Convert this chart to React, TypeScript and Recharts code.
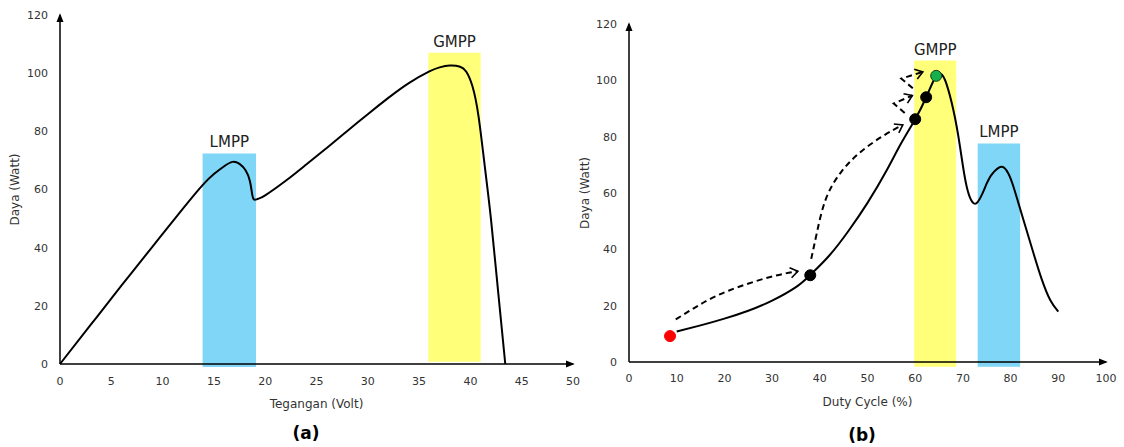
import React from 'react';
import {
  ComposedChart,
  Line,
  Scatter,
  XAxis,
  YAxis,
  ReferenceArea,
} from 'recharts';

// (a) P-V curve
const voltage = [0, 3, 6, 9, 12, 13.9, 15, 16, 16.8, 17.5, 18.1, 18.5, 18.7, 18.9, 19.3, 20, 22, 24, 26, 28, 30, 32, 34, 36, 37, 38, 39, 39.6, 40.2, 40.8, 41.4, 42, 42.7, 43.4];
const powerA = [0, 13.5, 27, 40.3, 53.5, 61.5, 65.3, 68, 69.5, 68.8, 66.5, 63, 59, 56.6, 56.8, 58, 63, 68.6, 74.3, 80.1, 85.9, 91.5, 96.6, 100.6, 102, 102.6, 102.2, 100.5, 95.5, 85, 68, 50, 25, 0];
const voltTicks = [0, 5, 10, 15, 20, 25, 30, 35, 40, 45, 50];

// (b) P-D curve
const duty = [10, 15, 20, 25, 30, 35, 38, 42, 46, 50, 54, 57, 60, 62.3, 64.4, 65.6, 66.5, 68, 69.4, 70.8, 72.8, 75, 76.5, 78.2, 79.5, 80.6, 82.7, 84.8, 86.5, 88.3, 90];
const powerB = [10.8, 13, 15.4, 18.2, 21.8, 26.6, 30.9, 37.8, 46.5, 56.5, 68, 77.5, 86.2, 94, 101.6, 102, 99, 89.5, 76.4, 62.2, 56.3, 63.4, 67.5, 69.3, 67, 62.2, 50.4, 38.6, 29.5, 22, 17.9];
const dutyTicks = [0, 10, 20, 30, 40, 50, 60, 70, 80, 90, 100];
const powerTicks = [0, 20, 40, 60, 80, 100, 120];

// tracking steps
const startX = [8.6];
const startY = [9.2];
const stepX = [38, 60, 62.3];
const stepY = [30.8, 86.2, 94];
const gmppX = [64.4];
const gmppY = [101.6];

// dashed jumps
const jump1X = [9.8, 15, 21, 29.4, 35.4];
const jump1Y = [15.1, 20.5, 25.4, 30.1, 32.2];
const jump2X = [38.2, 39.4, 41.3, 44.5, 48.5, 53.2, 57.4];
const jump2Y = [36.6, 46, 58, 67.5, 74.5, 80.2, 84.2];
const jump3X = [57.8, 55.5, 59.4];
const jump3Y = [88.4, 91.8, 94.6];
const jump4X = [59.5, 57.1, 61.6];
const jump4Y = [97.2, 100.6, 103];

// shaded regions
const regionNames = ['LMPP', 'GMPP'];
const regionsAx = [[13.9, 19.1], [35.9, 41.0]];
const regionsAy = [[-1, 72.4], [0.8, 107]];
const regionsBx = [[73.1, 82.0], [59.8, 68.6]];
const regionsBy = [[-1.7, 77.6], [-1.7, 107]];

const zip = (xs: number[], ys: number[]) => xs.map((x, i) => ({ x, y: ys[i] }));

const curveA = zip(voltage, powerA);
const curveB = zip(duty, powerB);
const jumps = [zip(jump1X, jump1Y), zip(jump2X, jump2Y), zip(jump3X, jump3Y), zip(jump4X, jump4Y)];

const BLUE = '#7fd6f6';
const YELLOW = '#ffff7a';
const regionColors = [BLUE, YELLOW];

const tickStyle = { fontSize: 11, fill: '#333' };
const titleStyle = { fontSize: 12, fill: '#333', textAnchor: 'middle' as const };

const makeArrowDot = (n: number) => (props: any) => {
  const { cx, cy, index, points } = props;
  if (index !== n - 1 || cx == null) return <g key={`d-${index}`} />;
  let ang = 0;
  if (points && points[index - 1]) {
    const p = points[index - 1];
    ang = Math.atan2(cy - p.y, cx - p.x);
  }
  const len = 9;
  const s = 0.6;
  const ax = cx - len * Math.cos(ang - s);
  const ay = cy - len * Math.sin(ang - s);
  const bx = cx - len * Math.cos(ang + s);
  const by = cy - len * Math.sin(ang + s);
  return (
    <path
      key={`d-${index}`}
      d={`M${ax},${ay} L${cx},${cy} L${bx},${by}`}
      stroke="#000"
      strokeWidth={1.6}
      fill="none"
    />
  );
};

const dotShape = (fill: string, stroke: string) => (props: any) => (
  <circle cx={props.cx} cy={props.cy} r={5.5} fill={fill} stroke={stroke} strokeWidth={1} />
);

const axisLineX = { stroke: '#000', strokeWidth: 1.5, markerEnd: 'url(#axisArrow)' };
const axisLineY = { stroke: '#000', strokeWidth: 1.5, markerStart: 'url(#axisArrow)' };

export default function App() {
  return (
    <div
      style={{
        position: 'absolute',
        left: 0,
        top: 0,
        width: 1124,
        height: 447,
        background: '#fff',
        fontFamily: '"DejaVu Sans", Verdana, sans-serif',
      }}
    >
      <svg width={0} height={0} style={{ position: 'absolute' }}>
        <defs>
          <marker
            id="axisArrow"
            viewBox="0 0 10 10"
            refX="8"
            refY="5"
            markerWidth="9"
            markerHeight="9"
            markerUnits="userSpaceOnUse"
            orient="auto-start-reverse"
          >
            <path d="M0,1 L10,5 L0,9 z" fill="#000" />
          </marker>
        </defs>
      </svg>

      <div style={{ position: 'absolute', left: 0, top: 0 }}>
        <ComposedChart width={600} height={447} margin={{ top: 15, right: 27, bottom: 39, left: 5 }}>
          <XAxis
            dataKey="x"
            type="number"
            domain={[0, 50]}
            ticks={voltTicks}
            tickLine={false}
            tickMargin={7}
            axisLine={axisLineX}
            tick={tickStyle}
            height={44}
            label={{ value: 'Tegangan (Volt)', position: 'insideBottom', offset: 0, style: titleStyle }}
          />
          <YAxis
            type="number"
            domain={[0, 120]}
            ticks={powerTicks}
            tickLine={false}
            tickMargin={6}
            axisLine={axisLineY}
            tick={tickStyle}
            width={55}
            label={{ value: 'Daya (Watt)', angle: -90, position: 'insideLeft', offset: 10, style: titleStyle }}
          />
          {regionNames.map((name, i) => (
            <ReferenceArea
              key={name}
              x1={regionsAx[i][0]}
              x2={regionsAx[i][1]}
              y1={regionsAy[i][0]}
              y2={regionsAy[i][1]}
              fill={regionColors[i]}
              fillOpacity={1}
              stroke="none"
              ifOverflow="visible"
              label={{ value: name, position: 'top', offset: 6, fontSize: 15, fill: '#222' }}
            />
          ))}
          <Line
            data={curveA}
            dataKey="y"
            type="natural"
            stroke="#000"
            strokeWidth={2}
            dot={false}
            isAnimationActive={false}
          />
        </ComposedChart>
      </div>

      <div style={{ position: 'absolute', left: 560, top: 0 }}>
        <ComposedChart width={564} height={447} margin={{ top: 24, right: 18, bottom: 41, left: 14 }}>
          <XAxis
            dataKey="x"
            type="number"
            domain={[0, 100]}
            ticks={dutyTicks}
            tickLine={false}
            tickMargin={6}
            axisLine={axisLineX}
            tick={tickStyle}
            height={44}
            label={{ value: 'Duty Cycle (%)', position: 'insideBottom', offset: 0, style: titleStyle }}
          />
          <YAxis
            type="number"
            domain={[0, 120]}
            ticks={powerTicks}
            tickLine={false}
            tickMargin={6}
            axisLine={axisLineY}
            tick={tickStyle}
            width={55}
            label={{ value: 'Daya (Watt)', angle: -90, position: 'insideLeft', offset: 11, style: titleStyle }}
          />
          {regionNames.map((name, i) => (
            <ReferenceArea
              key={name}
              x1={regionsBx[i][0]}
              x2={regionsBx[i][1]}
              y1={regionsBy[i][0]}
              y2={regionsBy[i][1]}
              fill={regionColors[i]}
              fillOpacity={1}
              stroke="none"
              ifOverflow="visible"
              label={{ value: name, position: 'top', offset: 6, fontSize: 15, fill: '#222' }}
            />
          ))}
          <Line
            data={curveB}
            dataKey="y"
            type="natural"
            stroke="#000"
            strokeWidth={2}
            dot={false}
            isAnimationActive={false}
          />
          {jumps.map((j, i) => (
            <Line
              key={`jump-${i}`}
              data={j}
              dataKey="y"
              type={i < 2 ? 'natural' : 'linear'}
              stroke="#000"
              strokeWidth={2}
              strokeDasharray="6 4"
              dot={makeArrowDot(j.length)}
              activeDot={false}
              isAnimationActive={false}
            />
          ))}
          <Scatter data={zip(startX, startY)} dataKey="y" shape={dotShape('#ff0000', '#ff0000')} isAnimationActive={false} />
          <Scatter data={zip(stepX, stepY)} dataKey="y" shape={dotShape('#000', '#000')} isAnimationActive={false} />
          <Scatter data={zip(gmppX, gmppY)} dataKey="y" shape={dotShape('#14b04c', '#1a3a1a')} isAnimationActive={false} />
        </ComposedChart>
      </div>

      <div style={{ position: 'absolute', left: 306, top: 433, transform: 'translate(-50%,-50%)', fontWeight: 'bold', fontSize: 17 }}>
        (a)
      </div>
      <div style={{ position: 'absolute', left: 862, top: 435, transform: 'translate(-50%,-50%)', fontWeight: 'bold', fontSize: 17 }}>
        (b)
      </div>
    </div>
  );
}
